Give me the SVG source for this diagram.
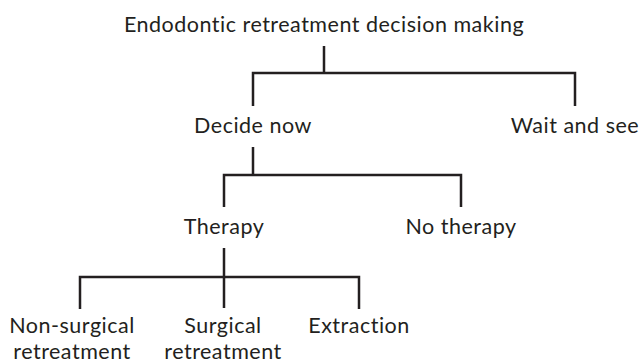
<svg xmlns="http://www.w3.org/2000/svg" width="640" height="363" viewBox="0 0 640 363">
<style>
text{font-family:Lato,"Open Sans","Liberation Sans",sans-serif;font-size:21.5px;letter-spacing:0.5px;fill:#231f20;text-anchor:middle}
.c{fill:none;stroke:#231f20;stroke-width:2.5;stroke-linecap:butt;stroke-linejoin:miter}
</style>
<rect width="640" height="363" fill="#fff"/>
<g id="connectors">
<path class="c" d="M324 46V73M253 106V73H575V106"/>
<path class="c" d="M253 147V175M224 207V175H461V207"/>
<path class="c" d="M224 248V308M80 309V277H359V309"/>
</g>
<g id="root"><text x="324" y="32">Endodontic retreatment decision making</text></g>
<g id="decide"><text x="253" y="133">Decide now</text></g>
<g id="wait"><text x="575" y="133">Wait and see</text></g>
<g id="therapy"><text x="224" y="234">Therapy</text></g>
<g id="notherapy"><text x="461" y="234">No therapy</text></g>
<g id="nonsurgical"><text x="72" y="333">Non-surgical</text><text x="72" y="359">retreatment</text></g>
<g id="surgical"><text x="223" y="333">Surgical</text><text x="223" y="359">retreatment</text></g>
<g id="extraction"><text x="359" y="333">Extraction</text></g>
</svg>
